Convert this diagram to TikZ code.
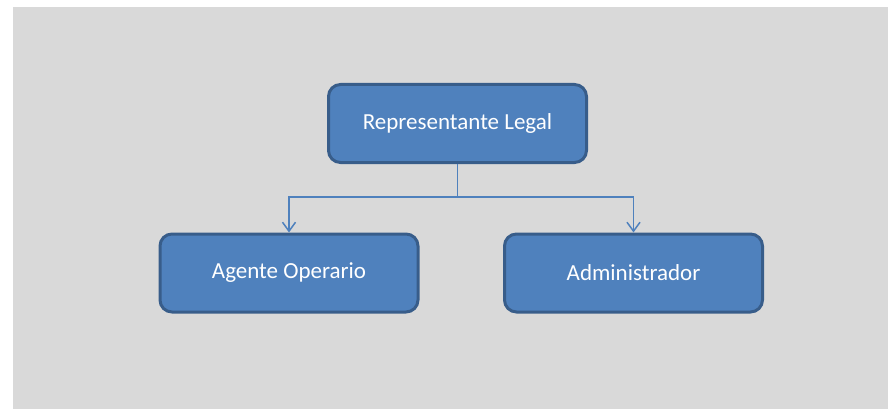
\documentclass[tikz,border=0pt]{standalone}
\usepackage{fontspec}
\setmainfont{Carlito}
\usetikzlibrary{arrows.meta}
\definecolor{fondo}{HTML}{D9D9D9}
\definecolor{cajaazul}{HTML}{4F81BD}
\definecolor{bordeazul}{HTML}{385D8A}
\begin{document}
\begin{tikzpicture}[x=1pt,y=-1pt,
    caja/.style={draw=bordeazul, line width=3pt, fill=cajaazul, rounded corners=12pt,
        minimum width=258pt, minimum height=78pt, text=white,
        font=\fontsize{23}{27}\selectfont},
    enlace/.style={draw=cajaazul, line width=1.5pt, -{Straight Barb[length=9pt,width=13pt,line width=1.5pt]}}]
			\fill[white] (0,0) rectangle (888,409);
			\useasboundingbox (0,0) rectangle (888,409);
			\fill[fondo] (13,7) rectangle (888,409);
			\node[caja] (rep) at (457.5,123.5) {Representante Legal};
			\node[caja] (agente) at (289,273) {Agente Operario};
			\node[caja] (admin) at (633.5,273) {Administrador};
			\coordinate (barra) at (457.5,197);
			\draw[enlace] (rep.south) -- (barra) -| (agente.north);
			\draw[enlace] (barra) -| (admin.north);
			\end{tikzpicture}
\end{document}
